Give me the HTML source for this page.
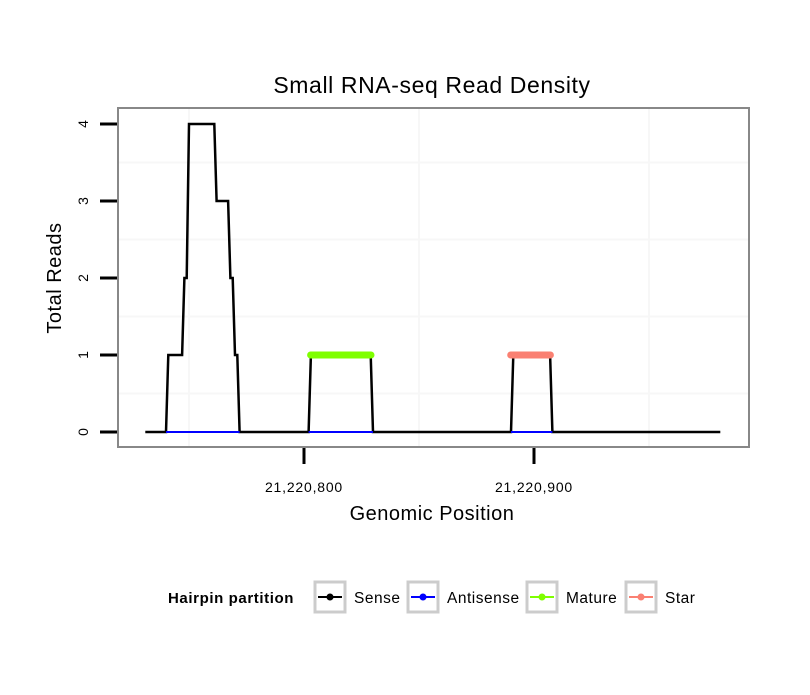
<!DOCTYPE html>
<html><head><meta charset="utf-8"><style>
body{margin:0;background:#fff;font-family:"Liberation Sans",sans-serif}
svg text{font-family:"Liberation Sans",sans-serif}
</style></head><body>
<svg width="810" height="690">
<text x="432" y="93" text-anchor="middle" font-size="23" letter-spacing="0.6">Small RNA-seq Read Density</text>
<g id="grid"></g>
<g id="series"></g>
<rect x="118" y="108" width="631" height="339" fill="none" stroke="#888" stroke-width="2"/>
<g id="axes"></g>
<text x="432" y="520" text-anchor="middle" font-size="20" letter-spacing="0.5">Genomic Position</text>
<text transform="translate(61,278) rotate(-90)" text-anchor="middle" font-size="20" letter-spacing="0.5">Total Reads</text>
<g>
<text x="168" y="603" font-size="15" font-weight="bold" letter-spacing="0.6">Hairpin partition</text>
<g id="legend"></g>
</g>
</svg>
<script>
const sensePos=[731,740,741,747,748,749,750,761,762,767,768,769,770,771,772,802,803,829,830,890,891,907,908,981];
const senseVal=[0,0,1,1,2,2,4,4,3,3,2,2,1,1,0,0,1,1,0,0,1,1,0,0];
const antiRanges=[[740,772],[802,830],[890,908]];
const matureRange=[802,830];
const starRange=[889,908];
const xTicks=[21220800,21220900];
const xTickLabels=["21,220,800","21,220,900"];
const xGrid=[21220750,21220850,21220950];
const yTicks=[0,1,2,3,4];
const yGrid=[0.5,1.5,2.5,3.5];
const legendNames=["Sense","Antisense","Mature","Star"];
const legendColors=["#000","#0000ff","#7fff00","#fa8072"];
const base=21220000;
const NS="http://www.w3.org/2000/svg";
function X(p){return 304+(p+ (p>100000?0:base)-21220800)*2.3;}
function Y(v){return 432-v*77;}
function mk(t,a,parent){const e=document.createElementNS(NS,t);for(const k in a)e.setAttribute(k,a[k]);parent.appendChild(e);return e;}
const grid=document.getElementById('grid'),series=document.getElementById('series'),axes=document.getElementById('axes'),legend=document.getElementById('legend');
xGrid.forEach(g=>{const l=mk('line',{x1:X(g),x2:X(g),y1:108,y2:447,stroke:'#f7f7f7','stroke-width':2},grid);

});
yGrid.forEach(g=>{const l=mk('line',{x1:118,x2:749,y1:Y(g),y2:Y(g),stroke:'#f7f7f7','stroke-width':2},grid);

});
const pts=sensePos.map((p,i)=>X(p)+','+Y(senseVal[i])).join(' ');
const sl=mk('polyline',{points:pts,fill:'none',stroke:'#000','stroke-width':2.5},series);


antiRanges.forEach(r=>{const l=mk('line',{x1:X(r[0]),x2:X(r[1]),y1:Y(0),y2:Y(0),stroke:'#0000ff','stroke-width':2},series);

});
[[matureRange,'#7fff00','mature-band'],[starRange,'#fa8072','star-band']].forEach(([r,c,n])=>{const l=mk('line',{x1:X(r[0])+2,x2:X(r[1])-2,y1:Y(1),y2:Y(1),stroke:c,'stroke-width':7,'stroke-linecap':'round'},series);

});
yTicks.forEach(v=>{const t=mk('line',{x1:100,x2:117,y1:Y(v),y2:Y(v),stroke:'#000','stroke-width':3},axes);


const tx=mk('text',{transform:`translate(88,${Y(v)}) rotate(-90)`,'text-anchor':'middle','font-size':14},axes);tx.textContent=v;

});
xTicks.forEach((v,i)=>{const t=mk('line',{x1:X(v),x2:X(v),y1:448,y2:464,stroke:'#000','stroke-width':3},axes);


const tx=mk('text',{x:X(v),y:492,'text-anchor':'middle','font-size':14,'letter-spacing':0.8},axes);tx.textContent=xTickLabels[i];

});
const bx=[314,407,526,625];
legendNames.forEach((n,i)=>{const x=bx[i];
const g=mk('g',{},legend);


mk('rect',{x:x+1,y:582,width:30,height:30,fill:'#fff',stroke:'#ccc','stroke-width':3},g);
mk('line',{x1:x+4,x2:x+28,y1:597,y2:597,stroke:legendColors[i],'stroke-width':2},g);
mk('circle',{cx:x+16,cy:597,r:3.5,fill:legendColors[i]},g);
const t=mk('text',{x:x+40,y:603,'font-size':15.5,'letter-spacing':0.5},g);t.textContent=n;});
</script>
</body></html>
